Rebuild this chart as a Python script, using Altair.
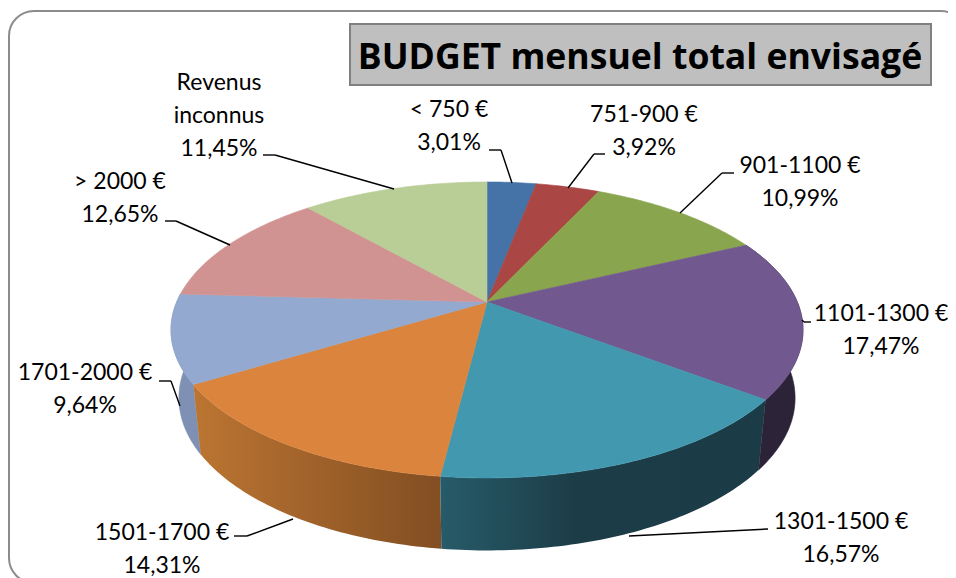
import math
import altair as alt

# ---- chart values ----
CATEGORIES = ["< 750 €", "751-900 €", "901-1100 €", "1101-1300 €", "1301-1500 €",
              "1501-1700 €", "1701-2000 €", "> 2000 €", "Revenus inconnus"]
VALUES = [3.01, 3.92, 10.99, 17.47, 16.57, 14.31, 9.64, 12.65, 11.45]
TITLE = "BUDGET mensuel total envisagé"
TOP_COLORS = ["#4572A7", "#AA4643", "#89A54E", "#71588F", "#4198AF",
              "#DB843D", "#93A9CF", "#D19392", "#B9CD96"]

# ---- layout (page pixels) ----
OFF = 8
CX, CY, A, B, K = 487, 302, 310.3, 142.7, 0.189
BOTTOM_SCALE_X, BOTTOM_SCALE_Y, DEPTH = 0.975, 1.03, 67.2
FONT = "Lato"
LABEL_SIZE = 23
LABEL_CENTER = [449, 644, 800, 881, 841, 162, 85, 120, 219]
LABEL_BASE = [117, 122, 173, 321, 529, 540, 380, 189, 90]
LINE_STEP = 33
LEADERS = [
    [(489, 150), (501, 150), (512, 183)],
    [(605, 154), (594, 154), (568, 188)],
    [(734, 173), (722, 173), (680, 213)],
    [(811, 322), (804, 322), (802, 320)],
    [(768, 529), (629, 536)],
    [(234, 536), (247, 536), (293, 519)],
    [(159, 381), (171, 381), (180, 406)],
    [(165, 221), (176, 221), (230, 245)],
    [(263, 155), (275, 155), (394, 189)],
]


def grad(stops):
    return alt.LinearGradient(
        gradient="linear", x1=0, x2=1, y1=0, y2=0,
        stops=[alt.GradientStop(offset=o, color=c) for o, c in stops],
    )


WALLS = {
    3: "#2D2339",
    4: grad([(0, "#275B69"), (0.41, "#1C3D48"), (1, "#1B3B46")]),
    5: grad([(0, "#BC7532"), (1, "#824E22")]),
    6: "#7E91B4",
}

# ---- geometry derived from the values ----
total = sum(VALUES)
cum = [0.0]
for v in VALUES:
    cum.append(cum[-1] + v)
angle = [c / total * 2 * math.pi for c in cum]


def top_pt(t):
    s = 1 / (1 + K * math.cos(t))
    return (CX + A * math.sin(t) * s - OFF, CY - B * math.cos(t) * s - OFF)


def bottom_pt(t):
    x, y = top_pt(t)
    return (CX - OFF + (x - CX + OFF) * BOTTOM_SCALE_X,
            CY - OFF + DEPTH + (y - CY + OFF) * BOTTOM_SCALE_Y)


def arc(fn, t0, t1):
    n = max(4, int((t1 - t0) * 60))
    return [fn(t0 + (t1 - t0) * i / n) for i in range(n + 1)]


def feature(ring):
    ring = [list(p) for p in ring]
    ring.append(ring[0])
    return {"type": "Feature", "properties": {},
            "geometry": {"type": "Polygon", "coordinates": [ring]}}


no_x = dict(scale=None, axis=None)


def shape(ring, fill, stroke=None):
    return alt.Chart(alt.Data(values=[feature(ring)])).mark_geoshape(
        fill=fill, stroke=stroke or "transparent", strokeWidth=0.6
    ).project(type="identity", scale=1, translate=[0, 0])


layers = []

# frame
frame = alt.Chart(alt.Data(values=[{"x": 1, "x2": 958, "y": 3, "y2": 575}])).mark_rect(
    fill="white", stroke="#8C8C8C", strokeWidth=2, cornerRadius=25, clip=True
).encode(x=alt.X("x:Q", **no_x), x2="x2:Q", y=alt.Y("y:Q", **no_x), y2="y2:Q")
layers.append(frame)

# side walls (back to front)
for i in [3, 6, 5, 4]:
    t0, t1 = angle[i], angle[i + 1]
    fill = WALLS[i]
    ring = arc(top_pt, t0, t1) + arc(bottom_pt, t0, t1)[::-1]
    layers.append(shape(ring, fill, fill if isinstance(fill, str) else None))

# top faces
for i in range(len(VALUES)):
    ring = [(CX - OFF, CY - OFF)] + arc(top_pt, angle[i], angle[i + 1])
    layers.append(shape(ring, TOP_COLORS[i], TOP_COLORS[i]))

# leader lines
rows = []
for li, pts in enumerate(LEADERS):
    for (x0, y0), (x1, y1) in zip(pts, pts[1:]):
        rows.append({"x": x0 - OFF, "y": y0 - OFF, "x2": x1 - OFF, "y2": y1 - OFF})
layers.append(
    alt.Chart(alt.Data(values=rows)).mark_rule(color="black", strokeWidth=1.4).encode(
        x=alt.X("x:Q", **no_x), x2="x2:Q", y=alt.Y("y:Q", **no_x), y2="y2:Q")
)

# data labels
label_rows = []
for i, (cat, val) in enumerate(zip(CATEGORIES, VALUES)):
    lines = (["Revenus", "inconnus"] if cat == "Revenus inconnus" else [cat])
    lines.append(f"{val:.2f}".replace(".", ",") + "%")
    for j, line in enumerate(lines):
        label_rows.append({"x": LABEL_CENTER[i] - OFF,
                           "y": LABEL_BASE[i] + j * LINE_STEP - OFF, "t": line})
layers.append(
    alt.Chart(alt.Data(values=label_rows)).mark_text(
        font=FONT, fontSize=LABEL_SIZE, align="center", baseline="alphabetic", color="black"
    ).encode(x=alt.X("x:Q", **no_x), y=alt.Y("y:Q", **no_x), text="t:N")
)

# title box
layers.append(
    alt.Chart(alt.Data(values=[{"x": 350 - OFF, "x2": 931 - OFF, "y": 24 - OFF, "y2": 85 - OFF}]))
    .mark_rect(fill="#BFBFBF", stroke="#808080", strokeWidth=2)
    .encode(x=alt.X("x:Q", **no_x), x2="x2:Q", y=alt.Y("y:Q", **no_x), y2="y2:Q")
)
layers.append(
    alt.Chart(alt.Data(values=[{"x": 640 - OFF, "y": 69 - OFF, "t": TITLE}]))
    .mark_text(font="Open Sans", fontSize=35.6, fontWeight="bold", align="center",
               baseline="alphabetic", color="black")
    .encode(x=alt.X("x:Q", **no_x), y=alt.Y("y:Q", **no_x), text="t:N")
)

chart = alt.layer(*layers).properties(
    width=940, height=570, padding=0, autosize=alt.AutoSizeParams(type="none"),
    background="white",
).configure_view(stroke=None)

chart.save("out.html", embed_options={"renderer": "svg", "actions": False})
